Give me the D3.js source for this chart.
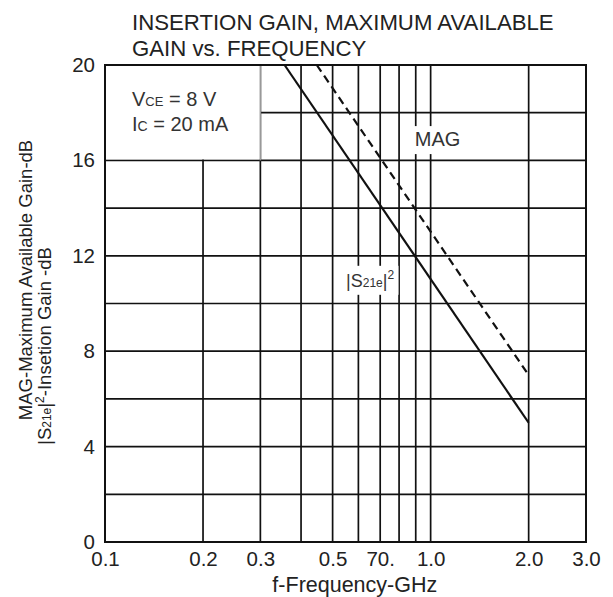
<!DOCTYPE html>
<html>
<head>
<meta charset="utf-8">
<script src="https://cdn.jsdelivr.net/npm/d3@7"></script>
<style>
  body { margin: 0; background: #fff; }
  svg { display: block; font-family: "Liberation Sans", Arial, sans-serif; }
</style>
</head>
<body>
<svg id="chart"></svg>
<script>
// values
const xTickValues = [0.1, 0.2, 0.3, 0.5, 0.7, 1.0, 2.0, 3.0];
const xTickLabels = ['0.1', '0.2', '0.3', '0.5', '70.', '1.0', '2.0', '3.0'];
const xGridValues = [0.2, 0.3, 0.4, 0.5, 0.6, 0.7, 0.8, 0.9, 1.0, 2.0];
const yTickValues = [0, 4, 8, 12, 16, 20];
const yGridValues = [2, 4, 6, 8, 10, 12, 14, 16, 18];

// |S21e|^2 (solid) and MAG (dashed), GHz / dB
const s21Freq = [0.356, 2.0];
const s21Gain = [20, 5];
const magFreq = [0.447, 2.0];
const magGain = [20, 7];

class GainChart {
    constructor(_config) {
        this.config = {
            parentElement: _config.parentElement,
            containerWidth: _config.containerWidth || 613,
            containerHeight: _config.containerHeight || 597,
            margin: _config.margin || { top: 65, right: 27, bottom: 55, left: 105 }
        };
        this.initVis();
    }

    initVis() {
        let vis = this;
        vis.width = vis.config.containerWidth - vis.config.margin.left - vis.config.margin.right;
        vis.height = vis.config.containerHeight - vis.config.margin.top - vis.config.margin.bottom;

        vis.xScale = d3.scaleLog().domain([0.1, 3.0]).range([0, vis.width]);
        vis.yScale = d3.scaleLinear().domain([0, 20]).range([vis.height, 0]);

        vis.svg = d3.select(vis.config.parentElement)
            .attr('width', vis.config.containerWidth)
            .attr('height', vis.config.containerHeight);

        // Title, two lines
        vis.svg.append('text')
            .attr('x', 132).attr('y', 30)
            .attr('font-size', '22.2px').attr('fill', '#222')
            .text('INSERTION GAIN, MAXIMUM AVAILABLE');
        vis.svg.append('text')
            .attr('x', 132).attr('y', 56)
            .attr('font-size', '22.2px').attr('fill', '#222')
            .text('GAIN vs. FREQUENCY');

        vis.chart = vis.svg.append('g')
            .attr('transform', `translate(${vis.config.margin.left},${vis.config.margin.top})`);

        vis.renderVis();
    }

    renderVis() {
        let vis = this;
        const x = vis.xScale, y = vis.yScale;

        // grid
        vis.chart.selectAll('.vgrid')
            .data(xGridValues)
            .join('line')
            .attr('class', 'vgrid')
            .attr('x1', d => x(d)).attr('x2', d => x(d))
            .attr('y1', 0).attr('y2', vis.height)
            .attr('stroke', '#111').attr('stroke-width', 1.7);

        vis.chart.selectAll('.hgrid')
            .data(yGridValues)
            .join('line')
            .attr('class', 'hgrid')
            .attr('x1', 0).attr('x2', vis.width)
            .attr('y1', d => y(d)).attr('y2', d => y(d))
            .attr('stroke', '#111').attr('stroke-width', 1.7);

        // condition box in the upper-left corner
        vis.chart.append('rect')
            .attr('x', 0).attr('y', 0)
            .attr('width', x(0.3)).attr('height', y(16) - 1)
            .attr('fill', '#fff');
        vis.chart.append('line')
            .attr('x1', x(0.3)).attr('x2', x(0.3))
            .attr('y1', 0).attr('y2', y(16))
            .attr('stroke', '#999').attr('stroke-width', 1.6);

        const cond1 = vis.chart.append('text')
            .attr('x', 27).attr('y', 41)
            .attr('font-size', '20px').attr('fill', '#333');
        cond1.append('tspan').text('V');
        cond1.append('tspan').attr('font-size', '13px').text('CE');
        cond1.append('tspan').text(' = 8 V');

        const cond2 = vis.chart.append('text')
            .attr('x', 27).attr('y', 66)
            .attr('font-size', '20px').attr('fill', '#333');
        cond2.append('tspan').text('I');
        cond2.append('tspan').attr('font-size', '14px').text('C');
        cond2.append('tspan').text(' = 20 mA');

        // frame
        vis.chart.append('rect')
            .attr('x', 0).attr('y', 0)
            .attr('width', vis.width).attr('height', vis.height)
            .attr('fill', 'none').attr('stroke', '#111').attr('stroke-width', 2);

        // curve labels with white backing
        const magLabel = vis.chart.append('text')
            .attr('x', x(1.05)).attr('y', y(16.6))
            .attr('text-anchor', 'middle')
            .attr('font-size', '20px').attr('fill', '#333')
            .text('MAG');

        const s21Label = vis.chart.append('text')
            .attr('x', x(0.55)).attr('y', y(10.7))
            .attr('font-size', '18px').attr('fill', '#333');
        s21Label.append('tspan').text('|S');
        s21Label.append('tspan').attr('font-size', '12px').text('21e');
        s21Label.append('tspan').text('|');
        s21Label.append('tspan').attr('font-size', '12px').attr('dy', -8).text('2');

        [magLabel, s21Label].forEach(t => {
            const b = t.node().getBBox();
            vis.chart.insert('rect', 'text')
                .attr('x', b.x - 4).attr('y', b.y - 2)
                .attr('width', b.width + 8).attr('height', b.height + 6)
                .attr('fill', '#fff');
        });

        // curves
        const line = d3.line().x(d => x(d[0])).y(d => y(d[1]));
        vis.chart.append('path')
            .datum(d3.zip(s21Freq, s21Gain))
            .attr('d', line)
            .attr('fill', 'none').attr('stroke', '#111').attr('stroke-width', 2.2);
        vis.chart.append('path')
            .datum(d3.zip(magFreq, magGain))
            .attr('d', line)
            .attr('fill', 'none').attr('stroke', '#111').attr('stroke-width', 2.2)
            .attr('stroke-dasharray', '8,5');

        // axes
        const xAxis = d3.axisBottom(x)
            .tickValues(xTickValues)
            .tickFormat((d, i) => xTickLabels[i])
            .tickSize(0).tickPadding(8);
        const xAxisG = vis.chart.append('g')
            .attr('transform', `translate(0,${vis.height})`)
            .call(xAxis);

        const yAxis = d3.axisLeft(y)
            .tickValues(yTickValues)
            .tickFormat(d3.format('d'))
            .tickSize(0).tickPadding(10);
        const yAxisG = vis.chart.append('g').call(yAxis);

        [xAxisG, yAxisG].forEach(g => {
            g.select('.domain').remove();
            g.selectAll('text')
                .attr('font-size', '20.5px')
                .attr('font-family', '"Liberation Sans", Arial, sans-serif')
                .attr('fill', '#222');
        });
        xAxisG.selectAll('text').attr('dy', '0.8em');

        // axis titles
        vis.svg.append('text')
            .attr('x', vis.config.margin.left + x(0.585))
            .attr('y', 592)
            .attr('text-anchor', 'middle')
            .attr('font-size', '21.5px').attr('fill', '#222')
            .text('f-Frequency-GHz');

        vis.svg.append('text')
            .attr('transform', 'translate(32,280) rotate(-90)')
            .attr('text-anchor', 'middle')
            .attr('font-size', '18.5px').attr('fill', '#222')
            .text('MAG-Maximum Available Gain-dB');

        const yl2 = vis.svg.append('text')
            .attr('transform', 'translate(51,346) rotate(-90)')
            .attr('text-anchor', 'middle')
            .attr('font-size', '18.5px').attr('fill', '#222');
        yl2.append('tspan').text('|S');
        yl2.append('tspan').attr('font-size', '12px').text('21e');
        yl2.append('tspan').text('|');
        yl2.append('tspan').attr('font-size', '12px').attr('dy', -7).text('2');
        yl2.append('tspan').attr('dy', 7).text('-Insetion Gain -dB');
    }
}

new GainChart({ parentElement: '#chart' });
</script>
</body>
</html>
